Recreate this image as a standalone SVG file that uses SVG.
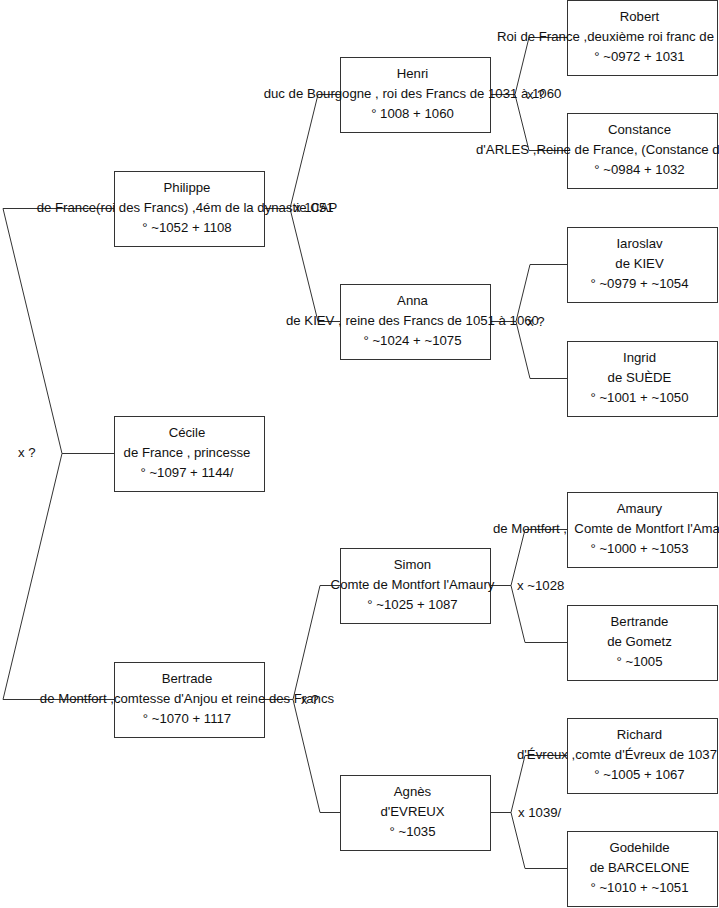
<svg xmlns="http://www.w3.org/2000/svg" width="719" height="908" viewBox="0 0 719 908">
<style>
rect.box{fill:#fff;stroke:#333;stroke-width:1}
.c{fill:none;stroke:#333;stroke-width:1}
text{font-family:"Liberation Sans",Arial,sans-serif;font-size:13.2px;fill:#111}
.m{text-anchor:middle}
.pre{white-space:pre}
</style>
<rect width="719" height="908" fill="#fff"/>
<g id="connectors">
<polyline class="c" points="114,208.5 3,208.5 62,453.5 3,699.5 114,699.5"/>
<line class="c" x1="62" y1="453.5" x2="114" y2="453.5"/>
<polyline class="c" points="340,94.5 318,94.5 290,208.5 318,321.5 340,321.5"/>
<line class="c" x1="265" y1="208.5" x2="290" y2="208.5"/>
<polyline class="c" points="340,585.5 320,585.5 293,699.5 320,812.5 340,812.5"/>
<line class="c" x1="265" y1="699.5" x2="293" y2="699.5"/>
<polyline class="c" points="567,37.5 529,37.5 515,94.5 529,150.5 567,150.5"/>
<line class="c" x1="491" y1="94.5" x2="515" y2="94.5"/>
<polyline class="c" points="567,264.5 530,264.5 516,321.5 530,378.5 567,378.5"/>
<line class="c" x1="491" y1="321.5" x2="516" y2="321.5"/>
<polyline class="c" points="567,529.5 525,529.5 511,585.5 525,642.5 567,642.5"/>
<line class="c" x1="491" y1="585.5" x2="511" y2="585.5"/>
<polyline class="c" points="567,755.5 525,755.5 511,812.5 525,868.5 567,868.5"/>
<line class="c" x1="491" y1="812.5" x2="511" y2="812.5"/>
</g>
<g id="labels">
<text x="18" y="457">x ?</text>
<text x="294" y="212">x 1051</text>
<text x="527" y="98.5">x ?</text>
<text x="527" y="325.5">x ?</text>
<text x="301" y="703.5">x ?</text>
<text x="517" y="589.5">x ~1028</text>
<text x="518" y="816.5">x 1039/</text>
</g>
<g id="philippe">
<rect class="box" x="114.5" y="171.5" width="150" height="75"/>
<text class="m" x="187" y="192">Philippe</text>
<text class="m" x="187" y="212">de France(roi des Francs) ,4ém de la dynastie CAP</text>
<text class="m" x="187" y="232">° ~1052 + 1108</text>
</g>
<g id="cecile">
<rect class="box" x="114.5" y="416.5" width="150" height="75"/>
<text class="m" x="187" y="437">Cécile</text>
<text class="m" x="187" y="457">de France , princesse</text>
<text class="m" x="187" y="477">° ~1097 + 1144/</text>
</g>
<g id="bertrade">
<rect class="box" x="114.5" y="662.5" width="150" height="75"/>
<text class="m" x="187" y="683">Bertrade</text>
<text class="m" x="187" y="703">de Montfort ,comtesse d'Anjou et reine des Francs</text>
<text class="m" x="187" y="723">° ~1070 + 1117</text>
</g>
<g id="henri">
<rect class="box" x="340.5" y="57.5" width="150" height="75"/>
<text class="m" x="412.5" y="78">Henri</text>
<text class="m" x="412.5" y="98">duc de Bourgogne , roi des Francs de 1031 à 1060</text>
<text class="m" x="412.5" y="118">° 1008 + 1060</text>
</g>
<g id="anna">
<rect class="box" x="340.5" y="284.5" width="150" height="75"/>
<text class="m" x="412.5" y="305">Anna</text>
<text class="m" x="412.5" y="325">de KIEV , reine des Francs de 1051 à 1060</text>
<text class="m" x="412.5" y="345">° ~1024 + ~1075</text>
</g>
<g id="simon">
<rect class="box" x="340.5" y="548.5" width="150" height="75"/>
<text class="m" x="412.5" y="569">Simon</text>
<text class="m" x="412.5" y="589">Comte de Montfort l'Amaury</text>
<text class="m" x="412.5" y="609">° ~1025 + 1087</text>
</g>
<g id="agnes">
<rect class="box" x="340.5" y="775.5" width="150" height="75"/>
<text class="m" x="412.5" y="796">Agnès</text>
<text class="m" x="412.5" y="816">d'EVREUX</text>
<text class="m" x="412.5" y="836">° ~1035</text>
</g>
<g id="robert">
<rect class="box" x="567.5" y="0.5" width="150" height="75"/>
<text class="m" x="639.5" y="21">Robert</text>
<text x="497" y="41">Roi de France ,deuxième roi franc de</text>
<text class="m" x="639.5" y="61">° ~0972 + 1031</text>
</g>
<g id="constance">
<rect class="box" x="567.5" y="113.5" width="150" height="75"/>
<text class="m" x="639.5" y="134">Constance</text>
<text x="476" y="154">d'ARLES ,Reine de France, (Constance d</text>
<text class="m" x="639.5" y="174">° ~0984 + 1032</text>
</g>
<g id="iaroslav">
<rect class="box" x="567.5" y="227.5" width="150" height="75"/>
<text class="m" x="639.5" y="248">Iaroslav</text>
<text class="m" x="639.5" y="268">de KIEV</text>
<text class="m" x="639.5" y="288">° ~0979 + ~1054</text>
</g>
<g id="ingrid">
<rect class="box" x="567.5" y="341.5" width="150" height="75"/>
<text class="m" x="639.5" y="362">Ingrid</text>
<text class="m" x="639.5" y="382">de SUÈDE</text>
<text class="m" x="639.5" y="402">° ~1001 + ~1050</text>
</g>
<g id="amaury">
<rect class="box" x="567.5" y="492.5" width="150" height="75"/>
<text class="m" x="639.5" y="513">Amaury</text>
<text class="pre" x="493" y="533">de Montfort ,  Comte de Montfort l'Ama</text>
<text class="m" x="639.5" y="553">° ~1000 + ~1053</text>
</g>
<g id="bertrande">
<rect class="box" x="567.5" y="605.5" width="150" height="75"/>
<text class="m" x="639.5" y="626">Bertrande</text>
<text class="m" x="639.5" y="646">de Gometz</text>
<text class="m" x="639.5" y="666">° ~1005</text>
</g>
<g id="richard">
<rect class="box" x="567.5" y="718.5" width="150" height="75"/>
<text class="m" x="639.5" y="739">Richard</text>
<text x="517" y="759">d'Évreux ,comte d'Évreux de 1037</text>
<text class="m" x="639.5" y="779">° ~1005 + 1067</text>
</g>
<g id="godehilde">
<rect class="box" x="567.5" y="831.5" width="150" height="75"/>
<text class="m" x="639.5" y="852">Godehilde</text>
<text class="m" x="639.5" y="872">de BARCELONE</text>
<text class="m" x="639.5" y="892">° ~1010 + ~1051</text>
</g>
</svg>
